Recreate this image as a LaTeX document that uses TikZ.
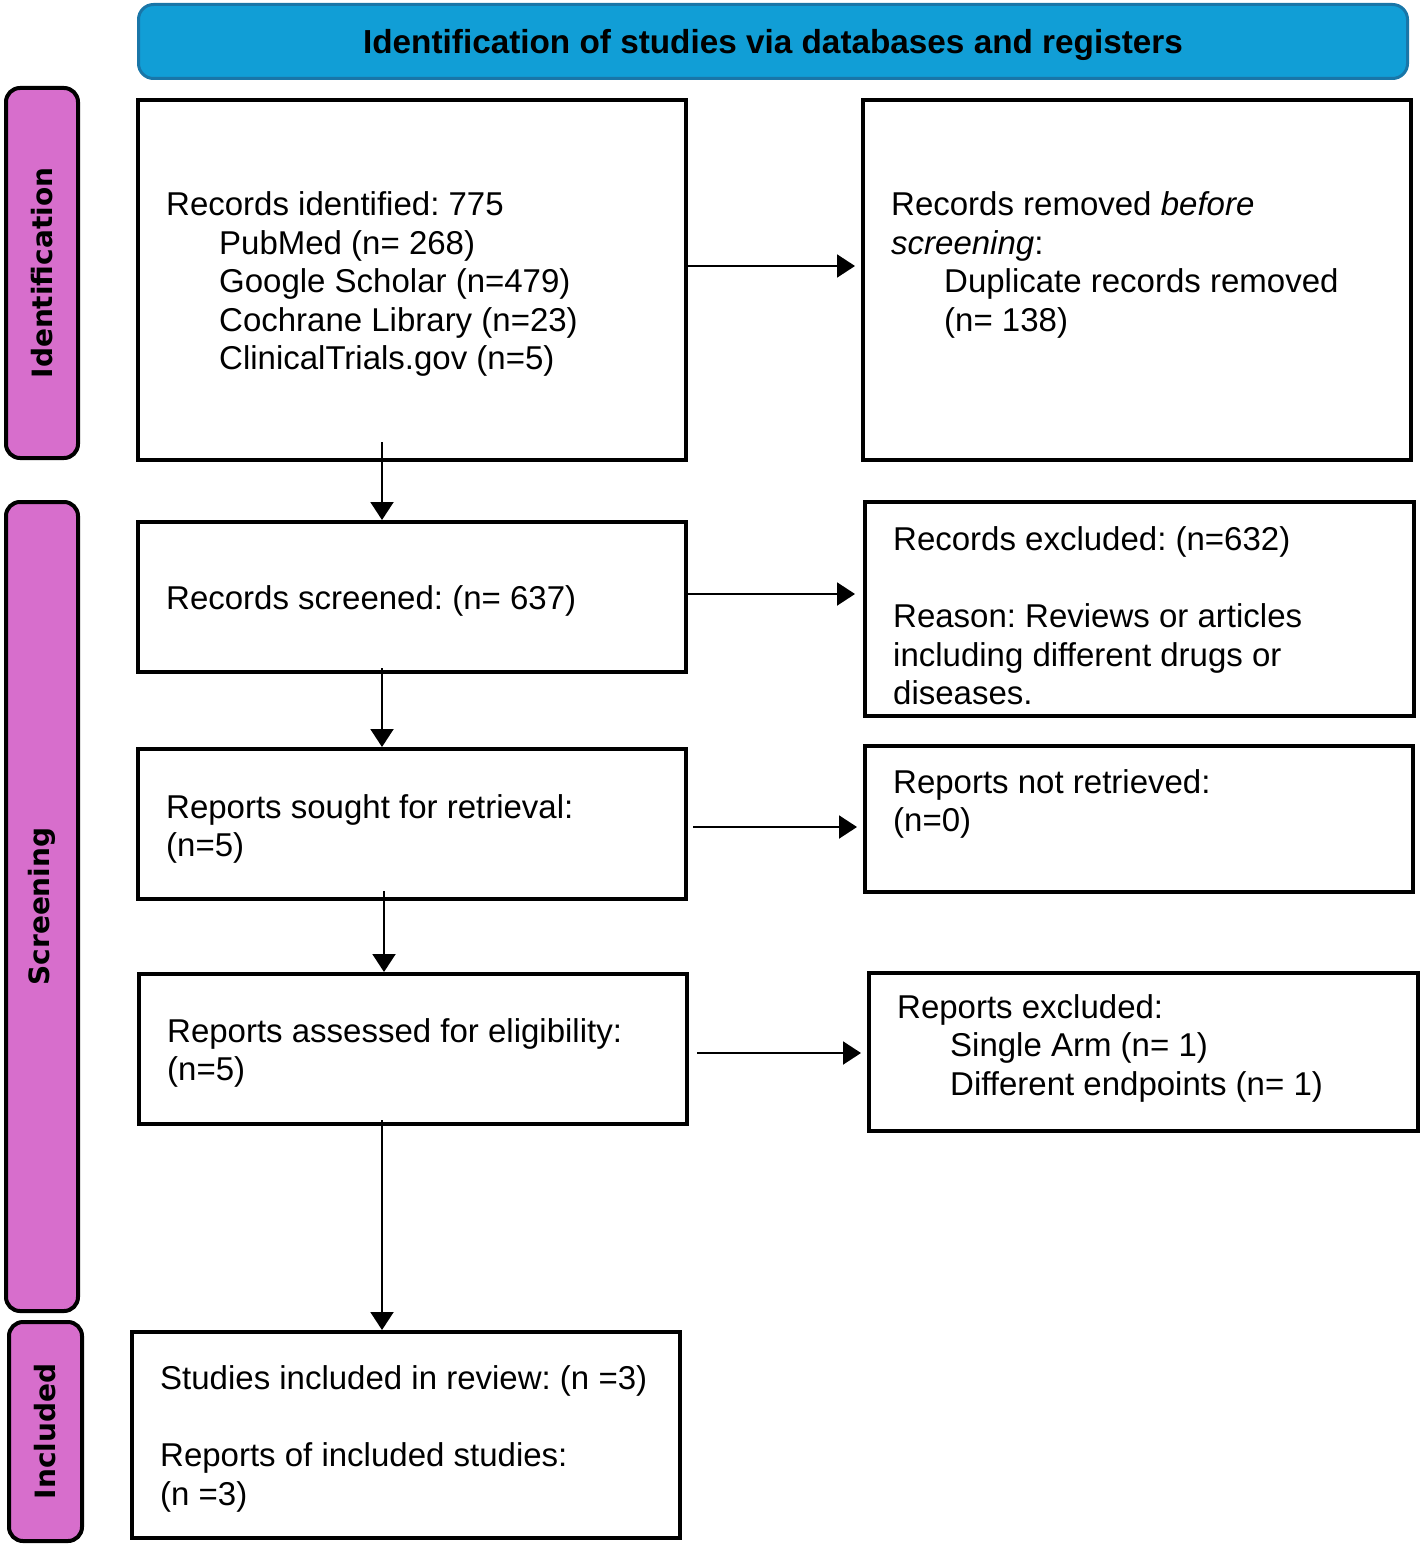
\documentclass[tikz,border=0pt]{standalone}
\usepackage{fontspec}
\setmainfont{Liberation Sans}
\newfontfamily\sidefont{DejaVu Sans}
\usetikzlibrary{arrows.meta}
\definecolor{titleblue}{RGB}{17,158,214}
\definecolor{titleedge}{RGB}{25,118,168}
\definecolor{sidepink}{RGB}{215,110,204}
\frenchspacing
\begin{document}
\frenchspacing
\begin{tikzpicture}[x=1pt,y=-1pt,
  flowbox/.style={draw=black, line width=4pt, fill=white, inner sep=0pt},
  txt/.style={anchor=west, inner sep=0pt, align=left, font=\fontsize{33}{38.5}\selectfont},
  arr/.style={line width=2pt, -{Triangle[length=18pt,width=23pt]}},
  side/.style={draw=black, line width=4pt, fill=sidepink, rounded corners=14pt, inner sep=0pt},
  sidetxt/.style={rotate=90, inner sep=0pt, font=\sidefont\bfseries\fontsize{28}{30}\selectfont},
  titlebox/.style={draw=titleedge, line width=3pt, fill=titleblue, rounded corners=15pt, inner sep=0pt}
]
\useasboundingbox (0,0) rectangle (1425,1546);
\def\ind{\hspace*{53pt}}

% title
\node[titlebox, minimum width=1269pt, minimum height=74pt] (title) at (773,41.5) {};
\node[inner sep=0pt, font=\bfseries\fontsize{33.3}{38.5}\selectfont] (titletxt) at (773,45) {Identification of studies via databases and registers};

% side bars
\node[side, minimum width=72pt, minimum height=370pt] (sideI) at (42,273) {};
\node[sidetxt] (sideItxt) at (sideI.center) {Identification};
\node[side, minimum width=72pt, minimum height=809pt] (sideS) at (42,906.5) {};
\node[sidetxt] (sideStxt) at (sideS.center) {Screening};
\node[side, minimum width=73pt, minimum height=219pt] (sideN) at (45.5,1431.5) {};
\node[sidetxt] (sideNtxt) at (sideN.center) {Included};

% boxes
\node[flowbox, minimum width=548pt, minimum height=360pt] (A) at (412,280) {};
\node[flowbox, minimum width=548pt, minimum height=360pt] (B) at (1137,280) {};
\node[flowbox, minimum width=548pt, minimum height=150pt] (C) at (412,597) {};
\node[flowbox, minimum width=549pt, minimum height=214pt] (D) at (1139.5,609) {};
\node[flowbox, minimum width=548pt, minimum height=150pt] (E) at (412,824) {};
\node[flowbox, minimum width=548pt, minimum height=146pt] (F) at (1139,819) {};
\node[flowbox, minimum width=548pt, minimum height=150pt] (G) at (413,1049) {};
\node[flowbox, minimum width=549pt, minimum height=158pt] (H) at (1143.5,1052) {};
\node[flowbox, minimum width=548pt, minimum height=206pt] (I) at (406,1435) {};

% texts
\node[txt] (Atxt) at (166,284) {Records identified: 775\\\ind PubMed (n= 268)\\\ind Google Scholar (n=479)\\\ind Cochrane Library (n=23)\\\ind ClinicalTrials.gov (n=5)};
\node[txt] (Btxt) at (891,265) {Records removed \textit{before}\\\textit{screening}:\\\ind Duplicate records removed\\\ind (n= 138)};
\node[txt] (Ctxt) at (166,601) {Records screened: (n= 637)};
\node[txt] (Dtxt) at (893,616) {Records excluded: (n=632)\\[38.5pt]Reason: Reviews or articles\\including different drugs or\\diseases.};
\node[txt] (Etxt) at (166,829) {Reports sought for retrieval:\\(n=5)};
\node[txt] (Ftxt) at (893,804) {Reports not retrieved:\\(n=0)};
\node[txt] (Gtxt) at (167,1053) {Reports assessed for eligibility:\\(n=5)};
\node[txt] (Htxt) at (897,1048) {Reports excluded:\\\ind Single Arm (n= 1)\\\ind Different endpoints (n= 1)};
\node[txt] (Itxt) at (160,1439) {Studies included in review: (n =3)\\[38.5pt]Reports of included studies:\\(n =3)};

% arrows
\draw[arr] ([yshift=14pt]A.east) -- ([xshift=-6pt,yshift=14pt]B.west);
\draw[arr] ([yshift=3pt]C.east) -- ([xshift=-8pt,yshift=15pt]D.west);
\draw[arr] ([xshift=5pt,yshift=-3pt]E.east) -- ([xshift=-6pt,yshift=-8pt]F.west);
\draw[arr] ([xshift=8pt,yshift=-4pt]G.east) -- ([xshift=-6pt,yshift=-1pt]H.west);
\draw[arr] ([xshift=-30pt,yshift=20pt]A.south) -- ([xshift=-30pt]C.north);
\draw[arr] ([xshift=-30pt,yshift=6pt]C.south) -- ([xshift=-30pt]E.north);
\draw[arr] ([xshift=-28pt,yshift=10pt]E.south) -- ([xshift=-29pt]G.north);
\draw[arr] ([xshift=-31pt,yshift=6pt]G.south) -- ([xshift=-24pt]I.north);
\end{tikzpicture}
\end{document}
